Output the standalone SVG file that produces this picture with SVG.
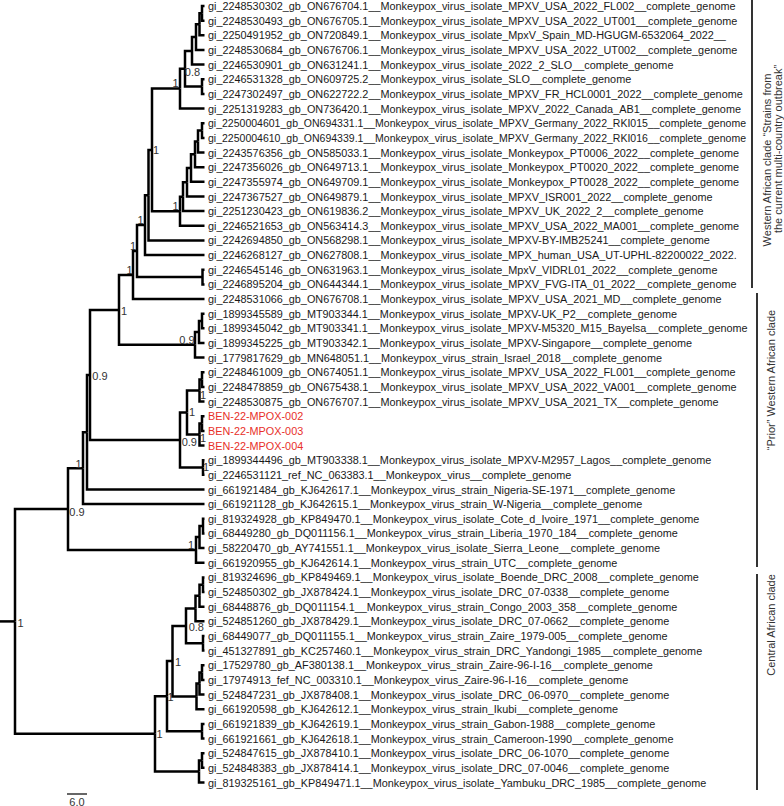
<svg xmlns="http://www.w3.org/2000/svg" width="784" height="806" viewBox="0 0 784 806">
<style>
.e{fill:none;stroke:#000;stroke-width:2.5;stroke-linejoin:miter}
.t{font-family:"Liberation Sans",Arial,sans-serif;font-size:10.85px;fill:#1a1a1a}
.ben{fill:#e8302a}
.nl{font-family:"Liberation Sans",Arial,sans-serif;font-size:11px;fill:#333;text-anchor:middle}
.bar{stroke:#000;stroke-width:1.6}
.cl{font-family:"Liberation Sans",Arial,sans-serif;font-size:11px;fill:#333;text-anchor:middle}
</style>
<rect width="784" height="806" fill="#fff"/>
<g id="connectors">
<path class="e" d="M0,621.4H15"/>
<path class="e" d="M15,621.4V509H68"/>
<path class="e" d="M15,621.4V733.8H155"/>
<path class="e" d="M68,509V468.2H83"/>
<path class="e" d="M68,509V549.9H196"/>
<path class="e" d="M83,468.2V432.2H87"/>
<path class="e" d="M83,468.2V504.1H204.5"/>
<path class="e" d="M87,432.2V375H90"/>
<path class="e" d="M87,432.2V489.5H204.5"/>
<path class="e" d="M90,375V309.9H119"/>
<path class="e" d="M90,375V440H180"/>
<path class="e" d="M119,309.9V275H133"/>
<path class="e" d="M119,309.9V344.8H195"/>
<path class="e" d="M133,275V251.1H137"/>
<path class="e" d="M133,275V299H204.5"/>
<path class="e" d="M137,251.1V225.1H145"/>
<path class="e" d="M137,251.1V277H202.5"/>
<path class="e" d="M202.5,277V269.7H204.5"/>
<path class="e" d="M202.5,277V284.4H204.5"/>
<path class="e" d="M145,225.1V195.2H148.5"/>
<path class="e" d="M145,225.1V255.1H204.5"/>
<path class="e" d="M148.5,195.2V149.9H152"/>
<path class="e" d="M148.5,195.2V240.4H204.5"/>
<path class="e" d="M152,149.9V88.6H180"/>
<path class="e" d="M152,149.9V211.2H180"/>
<path class="e" d="M180,88.6V68.7H185"/>
<path class="e" d="M180,88.6V108.6H204.5"/>
<path class="e" d="M185,68.7V50.9H192"/>
<path class="e" d="M185,68.7V86.6H202"/>
<path class="e" d="M202,86.6V79.3H204.5"/>
<path class="e" d="M202,86.6V93.9H204.5"/>
<path class="e" d="M192,50.9V37.1H196"/>
<path class="e" d="M192,50.9V64.6H204.5"/>
<path class="e" d="M196,37.1V24.3H199.5"/>
<path class="e" d="M196,37.1V50H204.5"/>
<path class="e" d="M199.5,24.3V13.3H202"/>
<path class="e" d="M199.5,24.3V35.3H204.5"/>
<path class="e" d="M202,13.3V6H204.5"/>
<path class="e" d="M202,13.3V20.7H204.5"/>
<path class="e" d="M180,211.2V196.7H183"/>
<path class="e" d="M180,211.2V225.8H204.5"/>
<path class="e" d="M183,196.7V182.3H187"/>
<path class="e" d="M183,196.7V211.1H204.5"/>
<path class="e" d="M187,182.3V168.1H191"/>
<path class="e" d="M187,182.3V196.5H204.5"/>
<path class="e" d="M191,168.1V154.3H195"/>
<path class="e" d="M191,168.1V181.8H204.5"/>
<path class="e" d="M195,154.3V141.5H198"/>
<path class="e" d="M195,154.3V167.2H204.5"/>
<path class="e" d="M198,141.5V130.5H202"/>
<path class="e" d="M198,141.5V152.5H204.5"/>
<path class="e" d="M202,130.5V123.2H204.5"/>
<path class="e" d="M202,130.5V137.9H204.5"/>
<path class="e" d="M195,344.8V332H199"/>
<path class="e" d="M195,344.8V357.6H204.5"/>
<path class="e" d="M199,332V321H202"/>
<path class="e" d="M199,332V343H204.5"/>
<path class="e" d="M202,321V313.7H204.5"/>
<path class="e" d="M202,321V328.3H204.5"/>
<path class="e" d="M180,440V412.5H187"/>
<path class="e" d="M180,440V467.5H203"/>
<path class="e" d="M187,412.5V390.6H199.5"/>
<path class="e" d="M187,412.5V434.5H199.5"/>
<path class="e" d="M199.5,390.6V379.6H202"/>
<path class="e" d="M199.5,390.6V401.6H204.5"/>
<path class="e" d="M202,379.6V372.3H204.5"/>
<path class="e" d="M202,379.6V386.9H204.5"/>
<path class="e" d="M199.5,434.5V423.5H202"/>
<path class="e" d="M199.5,434.5V445.5H204.5"/>
<path class="e" d="M202,423.5V416.2H204.5"/>
<path class="e" d="M202,423.5V430.9H204.5"/>
<path class="e" d="M203,467.5V460.2H204.5"/>
<path class="e" d="M203,467.5V474.8H204.5"/>
<path class="e" d="M196,549.9V537.1H199.5"/>
<path class="e" d="M196,549.9V562.7H204.5"/>
<path class="e" d="M199.5,537.1V526.1H203"/>
<path class="e" d="M199.5,537.1V548.1H204.5"/>
<path class="e" d="M203,526.1V518.8H204.5"/>
<path class="e" d="M203,526.1V533.4H204.5"/>
<path class="e" d="M155,733.8V696.2H167"/>
<path class="e" d="M155,733.8V771.5H199"/>
<path class="e" d="M167,696.2V661.1H172.5"/>
<path class="e" d="M167,696.2V731.2H202"/>
<path class="e" d="M202,731.2V723.9H204.5"/>
<path class="e" d="M202,731.2V738.5H204.5"/>
<path class="e" d="M172.5,661.1V625.9H186"/>
<path class="e" d="M172.5,661.1V696.4H196.5"/>
<path class="e" d="M186,625.9V608.5H195.5"/>
<path class="e" d="M186,625.9V643.3H203"/>
<path class="e" d="M195.5,608.5V595.7H199.5"/>
<path class="e" d="M195.5,608.5V621.3H204.5"/>
<path class="e" d="M199.5,595.7V584.7H203"/>
<path class="e" d="M199.5,595.7V606.7H204.5"/>
<path class="e" d="M203,584.7V577.4H204.5"/>
<path class="e" d="M203,584.7V592H204.5"/>
<path class="e" d="M203,643.3V636H204.5"/>
<path class="e" d="M203,643.3V650.6H204.5"/>
<path class="e" d="M196.5,696.4V683.6H199.5"/>
<path class="e" d="M196.5,696.4V709.2H204.5"/>
<path class="e" d="M199.5,683.6V672.6H202"/>
<path class="e" d="M199.5,683.6V694.6H204.5"/>
<path class="e" d="M202,672.6V665.3H204.5"/>
<path class="e" d="M202,672.6V679.9H204.5"/>
<path class="e" d="M199,771.5V760.5H202"/>
<path class="e" d="M199,771.5V782.5H204.5"/>
<path class="e" d="M202,760.5V753.2H204.5"/>
<path class="e" d="M202,760.5V767.8H204.5"/>
</g>
<g id="support-labels">
<text class="nl" x="192.5" y="76">0.8</text>
<text class="nl" x="175.5" y="87">1</text>
<text class="nl" x="156" y="154">1</text>
<text class="nl" x="175.5" y="210">1</text>
<text class="nl" x="140.5" y="224">1</text>
<text class="nl" x="133" y="249.5">1</text>
<text class="nl" x="129.5" y="274">1</text>
<text class="nl" x="124" y="315">1</text>
<text class="nl" x="187" y="344">0.9</text>
<text class="nl" x="100" y="380">0.9</text>
<text class="nl" x="203" y="398.5">1</text>
<text class="nl" x="192" y="415.5">1</text>
<text class="nl" x="203" y="442">1</text>
<text class="nl" x="189.3" y="446">0.9</text>
<text class="nl" x="206" y="471">1</text>
<text class="nl" x="78.5" y="467.5">1</text>
<text class="nl" x="77" y="515.5">0.9</text>
<text class="nl" x="191" y="548.5">1</text>
<text class="nl" x="20.5" y="627">1</text>
<text class="nl" x="196.3" y="631.3">0.8</text>
<text class="nl" x="178" y="665.5">1</text>
<text class="nl" x="170.5" y="701">1</text>
<text class="nl" x="159.5" y="738">1</text>
</g>
<g id="leaf01"><text class="t" x="208" y="10">gi_2248530302_gb_ON676704.1__Monkeypox_virus_isolate_MPXV_USA_2022_FL002__complete_genome</text></g>
<g id="leaf02"><text class="t" x="208" y="24.7">gi_2248530493_gb_ON676705.1__Monkeypox_virus_isolate_MPXV_USA_2022_UT001__complete_genome</text></g>
<g id="leaf03"><text class="t" x="208" y="39.3">gi_2250491952_gb_ON720849.1__Monkeypox_virus_isolate_MpxV_Spain_MD-HGUGM-6532064_2022__</text></g>
<g id="leaf04"><text class="t" x="208" y="54">gi_2248530684_gb_ON676706.1__Monkeypox_virus_isolate_MPXV_USA_2022_UT002__complete_genome</text></g>
<g id="leaf05"><text class="t" x="208" y="68.6">gi_2246530901_gb_ON631241.1__Monkeypox_virus_isolate_2022_2_SLO__complete_genome</text></g>
<g id="leaf06"><text class="t" x="208" y="83.3">gi_2246531328_gb_ON609725.2__Monkeypox_virus_isolate_SLO__complete_genome</text></g>
<g id="leaf07"><text class="t" x="208" y="97.9">gi_2247302497_gb_ON622722.2__Monkeypox_virus_isolate_MPXV_FR_HCL0001_2022__complete_genome</text></g>
<g id="leaf08"><text class="t" x="208" y="112.6">gi_2251319283_gb_ON736420.1__Monkeypox_virus_isolate_MPXV_2022_Canada_AB1__complete_genome</text></g>
<g id="leaf09"><text class="t" x="208" y="127.2" textLength="538" lengthAdjust="spacingAndGlyphs">gi_2250004601_gb_ON694331.1__Monkeypox_virus_isolate_MPXV_Germany_2022_RKI015__complete_genome</text></g>
<g id="leaf10"><text class="t" x="208" y="141.9" textLength="538" lengthAdjust="spacingAndGlyphs">gi_2250004610_gb_ON694339.1__Monkeypox_virus_isolate_MPXV_Germany_2022_RKI016__complete_genome</text></g>
<g id="leaf11"><text class="t" x="208" y="156.5">gi_2243576356_gb_ON585033.1__Monkeypox_virus_isolate_Monkeypox_PT0006_2022__complete_genome</text></g>
<g id="leaf12"><text class="t" x="208" y="171.2">gi_2247356026_gb_ON649713.1__Monkeypox_virus_isolate_Monkeypox_PT0020_2022__complete_genome</text></g>
<g id="leaf13"><text class="t" x="208" y="185.8">gi_2247355974_gb_ON649709.1__Monkeypox_virus_isolate_Monkeypox_PT0028_2022__complete_genome</text></g>
<g id="leaf14"><text class="t" x="208" y="200.5">gi_2247367527_gb_ON649879.1__Monkeypox_virus_isolate_MPXV_ISR001_2022__complete_genome</text></g>
<g id="leaf15"><text class="t" x="208" y="215.1">gi_2251230423_gb_ON619836.2__Monkeypox_virus_isolate_MPXV_UK_2022_2__complete_genome</text></g>
<g id="leaf16"><text class="t" x="208" y="229.8">gi_2246521653_gb_ON563414.3__Monkeypox_virus_isolate_MPXV_USA_2022_MA001__complete_genome</text></g>
<g id="leaf17"><text class="t" x="208" y="244.4">gi_2242694850_gb_ON568298.1__Monkeypox_virus_isolate_MPXV-BY-IMB25241__complete_genome</text></g>
<g id="leaf18"><text class="t" x="208" y="259.1">gi_2246268127_gb_ON627808.1__Monkeypox_virus_isolate_MPX_human_USA_UT-UPHL-82200022_2022.</text></g>
<g id="leaf19"><text class="t" x="208" y="273.7">gi_2246545146_gb_ON631963.1__Monkeypox_virus_isolate_MpxV_VIDRL01_2022__complete_genome</text></g>
<g id="leaf20"><text class="t" x="208" y="288.4">gi_2246895204_gb_ON644344.1__Monkeypox_virus_isolate_MPXV_FVG-ITA_01_2022__complete_genome</text></g>
<g id="leaf21"><text class="t" x="208" y="303">gi_2248531066_gb_ON676708.1__Monkeypox_virus_isolate_MPXV_USA_2021_MD__complete_genome</text></g>
<g id="leaf22"><text class="t" x="208" y="317.7">gi_1899345589_gb_MT903344.1__Monkeypox_virus_isolate_MPXV-UK_P2__complete_genome</text></g>
<g id="leaf23"><text class="t" x="208" y="332.3">gi_1899345042_gb_MT903341.1__Monkeypox_virus_isolate_MPXV-M5320_M15_Bayelsa__complete_genome</text></g>
<g id="leaf24"><text class="t" x="208" y="347">gi_1899345225_gb_MT903342.1__Monkeypox_virus_isolate_MPXV-Singapore__complete_genome</text></g>
<g id="leaf25"><text class="t" x="208" y="361.6">gi_1779817629_gb_MN648051.1__Monkeypox_virus_strain_Israel_2018__complete_genome</text></g>
<g id="leaf26"><text class="t" x="208" y="376.3">gi_2248461009_gb_ON674051.1__Monkeypox_virus_isolate_MPXV_USA_2022_FL001__complete_genome</text></g>
<g id="leaf27"><text class="t" x="208" y="390.9">gi_2248478859_gb_ON675438.1__Monkeypox_virus_isolate_MPXV_USA_2022_VA001__complete_genome</text></g>
<g id="leaf28"><text class="t" x="208" y="405.6">gi_2248530875_gb_ON676707.1__Monkeypox_virus_isolate_MPXV_USA_2021_TX__complete_genome</text></g>
<g id="leaf29"><text class="t ben" x="208" y="420.2">BEN-22-MPOX-002</text></g>
<g id="leaf30"><text class="t ben" x="208" y="434.9">BEN-22-MPOX-003</text></g>
<g id="leaf31"><text class="t ben" x="208" y="449.5">BEN-22-MPOX-004</text></g>
<g id="leaf32"><text class="t" x="208" y="464.2">gi_1899344496_gb_MT903338.1__Monkeypox_virus_isolate_MPXV-M2957_Lagos__complete_genome</text></g>
<g id="leaf33"><text class="t" x="208" y="478.8">gi_2246531121_ref_NC_063383.1__Monkeypox_virus__complete_genome</text></g>
<g id="leaf34"><text class="t" x="208" y="493.5">gi_661921484_gb_KJ642617.1__Monkeypox_virus_strain_Nigeria-SE-1971__complete_genome</text></g>
<g id="leaf35"><text class="t" x="208" y="508.1">gi_661921128_gb_KJ642615.1__Monkeypox_virus_strain_W-Nigeria__complete_genome</text></g>
<g id="leaf36"><text class="t" x="208" y="522.8">gi_819324928_gb_KP849470.1__Monkeypox_virus_isolate_Cote_d_Ivoire_1971__complete_genome</text></g>
<g id="leaf37"><text class="t" x="208" y="537.4">gi_68449280_gb_DQ011156.1__Monkeypox_virus_strain_Liberia_1970_184__complete_genome</text></g>
<g id="leaf38"><text class="t" x="208" y="552.1">gi_58220470_gb_AY741551.1__Monkeypox_virus_isolate_Sierra_Leone__complete_genome</text></g>
<g id="leaf39"><text class="t" x="208" y="566.7">gi_661920955_gb_KJ642614.1__Monkeypox_virus_strain_UTC__complete_genome</text></g>
<g id="leaf40"><text class="t" x="208" y="581.4">gi_819324696_gb_KP849469.1__Monkeypox_virus_isolate_Boende_DRC_2008__complete_genome</text></g>
<g id="leaf41"><text class="t" x="208" y="596">gi_524850302_gb_JX878424.1__Monkeypox_virus_isolate_DRC_07-0338__complete_genome</text></g>
<g id="leaf42"><text class="t" x="208" y="610.7">gi_68448876_gb_DQ011154.1__Monkeypox_virus_strain_Congo_2003_358__complete_genome</text></g>
<g id="leaf43"><text class="t" x="208" y="625.3">gi_524851260_gb_JX878429.1__Monkeypox_virus_isolate_DRC_07-0662__complete_genome</text></g>
<g id="leaf44"><text class="t" x="208" y="640">gi_68449077_gb_DQ011155.1__Monkeypox_virus_strain_Zaire_1979-005__complete_genome</text></g>
<g id="leaf45"><text class="t" x="208" y="654.6">gi_451327891_gb_KC257460.1__Monkeypox_virus_strain_DRC_Yandongi_1985__complete_genome</text></g>
<g id="leaf46"><text class="t" x="208" y="669.3">gi_17529780_gb_AF380138.1__Monkeypox_virus_strain_Zaire-96-I-16__complete_genome</text></g>
<g id="leaf47"><text class="t" x="208" y="683.9">gi_17974913_fef_NC_003310.1__Monkeypox_virus_Zaire-96-I-16__complete_genome</text></g>
<g id="leaf48"><text class="t" x="208" y="698.6">gi_524847231_gb_JX878408.1__Monkeypox_virus_isolate_DRC_06-0970__complete_genome</text></g>
<g id="leaf49"><text class="t" x="208" y="713.2">gi_661920598_gb_KJ642612.1__Monkeypox_virus_strain_Ikubi__complete_genome</text></g>
<g id="leaf50"><text class="t" x="208" y="727.9">gi_661921839_gb_KJ642619.1__Monkeypox_virus_strain_Gabon-1988__complete_genome</text></g>
<g id="leaf51"><text class="t" x="208" y="742.5">gi_661921661_gb_KJ642618.1__Monkeypox_virus_strain_Cameroon-1990__complete_genome</text></g>
<g id="leaf52"><text class="t" x="208" y="757.2">gi_524847615_gb_JX878410.1__Monkeypox_virus_isolate_DRC_06-1070__complete_genome</text></g>
<g id="leaf53"><text class="t" x="208" y="771.8">gi_524848383_gb_JX878414.1__Monkeypox_virus_isolate_DRC_07-0046__complete_genome</text></g>
<g id="leaf54"><text class="t" x="208" y="786.5">gi_819325161_gb_KP849471.1__Monkeypox_virus_isolate_Yambuku_DRC_1985__complete_genome</text></g>
<g id="clade-outbreak">
<line class="bar" x1="752" y1="0" x2="752" y2="288"/>
<text class="cl" transform="translate(771,160) rotate(-90)">Western African clade “Strains from</text>
<text class="cl" transform="translate(782,149) rotate(-90)">the current multi-country outbreak”</text>
</g>
<g id="clade-prior">
<line class="bar" x1="757" y1="293" x2="757" y2="567"/>
<text class="cl" transform="translate(775,380) rotate(-90)">“Prior” Western African clade</text>
</g>
<g id="clade-central">
<line class="bar" x1="757" y1="574" x2="757" y2="790"/>
<text class="cl" transform="translate(775,625) rotate(-90)">Central African clade</text>
</g>
<g id="scale-bar">
<line x1="67" y1="794" x2="87" y2="794" stroke="#000" stroke-width="1.2"/>
<text class="nl" x="77" y="805.5">6.0</text>
</g>
</svg>
